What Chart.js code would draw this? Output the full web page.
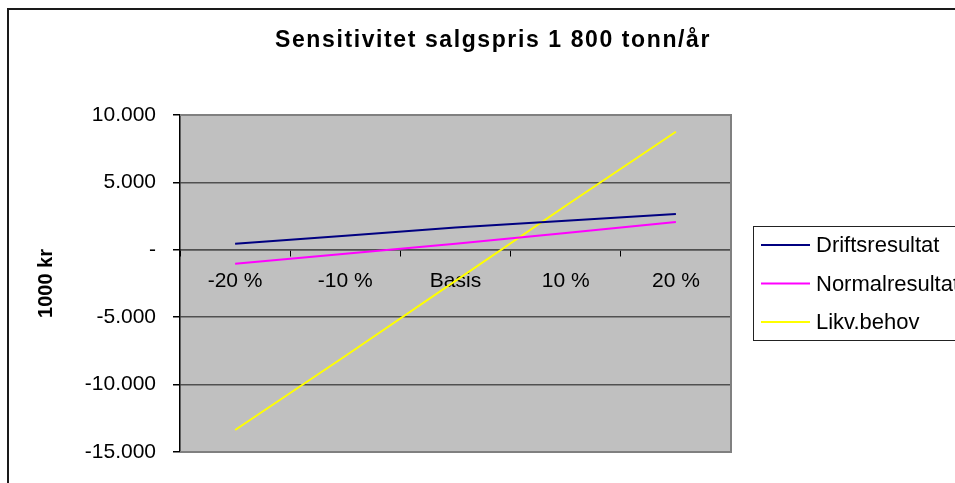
<!DOCTYPE html>
<html><head><meta charset="utf-8">
<script src="https://cdn.jsdelivr.net/npm/chart.js@4"></script>
<style>html,body{margin:0;padding:0;background:#fff;} #wrap{position:relative;width:955px;height:483px;}</style>
</head><body><div id="wrap"><canvas id="c" width="955" height="483"></canvas></div>
<script>
const titleText = 'Sensitivitet salgspris 1 800 tonn/år';
const yTitle = '1000 kr';
const categories = ['-20 %', '-10 %', 'Basis', '10 %', '20 %'];
const driftsresultat = [440, 1040, 1650, 2160, 2660];
const normalresultat = [-1030, -290, 440, 1250, 2060];
const likvBehov = [-13370, -7880, -2300, 3270, 8760];
const seriesNames = ['Driftsresultat', 'Normalresultat', 'Likv.behov'];
const seriesColors = ['#000080', '#FF00FF', '#FFFF00'];
const yMin = -15000, yMax = 10000, yStep = 5000;

const FONT = "'Liberation Sans', Arial, sans-serif";

function fmt(v) {
  if (v === 0) return '-';
  const s = String(Math.abs(v)).replace(/\B(?=(\d{3})+(?!\d))/g, '.');
  return (v < 0 ? '-' : '') + s;
}

const decor = {
  id: 'decor',
  beforeDraw(chart) {
    const {ctx, chartArea: a} = chart;
    ctx.save();
    ctx.fillStyle = '#fff';
    ctx.fillRect(0, 0, chart.width, chart.height);
    ctx.fillStyle = '#C0C0C0';
    ctx.fillRect(a.left, a.top, a.right - a.left, a.bottom - a.top);
    ctx.strokeStyle = '#1a1a1a';
    ctx.lineWidth = 2;
    ctx.beginPath();
    ctx.moveTo(8, chart.height + 5);
    ctx.lineTo(8, 9);
    ctx.lineTo(chart.width + 5, 9);
    ctx.stroke();
    ctx.restore();
  },
  afterDraw(chart) {
    const {ctx, chartArea: a} = chart;
    ctx.save();
    ctx.strokeStyle = '#808080';
    ctx.lineWidth = 2;
    ctx.beginPath();
    ctx.moveTo(a.left, a.top);
    ctx.lineTo(a.right, a.top);
    ctx.lineTo(a.right, a.bottom);
    ctx.lineTo(a.left, a.bottom);
    ctx.stroke();
    ctx.fillStyle = '#000';
    ctx.font = 'bold 23px ' + FONT;
    ctx.textAlign = 'center';
    ctx.textBaseline = 'alphabetic';
    if ('letterSpacing' in ctx) ctx.letterSpacing = '1.6px';
    ctx.fillText(titleText, 493, 47);
    if ('letterSpacing' in ctx) ctx.letterSpacing = '0px';
    const lx = 753, ly = 226, lh = 114;
    ctx.strokeStyle = '#222';
    ctx.lineWidth = 1;
    ctx.strokeRect(lx + 0.5, ly + 0.5, 300, lh);
    ctx.font = '22px ' + FONT;
    ctx.textAlign = 'left';
    ctx.textBaseline = 'middle';
    chart.data.datasets.forEach((ds, i) => {
      const y = 245 + i * 38.5;
      ctx.strokeStyle = ds.borderColor;
      ctx.lineWidth = 2;
      ctx.beginPath();
      ctx.moveTo(761, y);
      ctx.lineTo(810, y);
      ctx.stroke();
      ctx.fillStyle = '#000';
      ctx.fillText(ds.label, 816, y + 1);
    });
    ctx.restore();
  }
};

new Chart(document.getElementById('c'), {
  type: 'line',
  data: {
    labels: categories,
    datasets: [driftsresultat, normalresultat, likvBehov].map((d, i) => ({
      label: seriesNames[i],
      data: d,
      borderColor: seriesColors[i],
      backgroundColor: seriesColors[i],
      borderWidth: 2,
      pointRadius: 0,
      tension: 0,
      fill: false
    }))
  },
  options: {
    responsive: false,
    animation: false,
    devicePixelRatio: 1,
    layout: {padding: {left: 0, top: 115, right: 224, bottom: 31}},
    plugins: {legend: {display: false}, title: {display: false}, tooltip: {enabled: false}},
    scales: {
      x: {
        type: 'category',
        position: {y: 0},
        offset: true,
        grid: {offset: true, drawOnChartArea: false, drawTicks: true, tickLength: 6, tickColor: '#000', lineWidth: 1},
        border: {display: true, color: '#505050', width: 1.5},
        ticks: {color: '#000', font: {family: FONT, size: 21}, padding: 13, maxRotation: 0, autoSkip: false}
      },
      y: {
        type: 'linear',
        min: yMin, max: yMax,
        afterFit(s) { s.width = 180; },
        ticks: {stepSize: yStep, color: '#000', font: {family: FONT, size: 21}, padding: 17, callback: v => fmt(v)},
        grid: {
          color: c => (c.tick && (c.tick.value === yMax || c.tick.value === yMin)) ? 'rgba(0,0,0,0)' : '#505050',
          lineWidth: 1.5, tickLength: 7, tickColor: '#000', drawTicks: true
        },
        border: {display: true, color: '#000', width: 1.5},
        title: {display: true, text: yTitle, color: '#000', font: {family: FONT, size: 20, weight: 'bold'}, padding: {top: 34, bottom: 0}}
      }
    }
  },
  plugins: [decor]
});
</script></body></html>
